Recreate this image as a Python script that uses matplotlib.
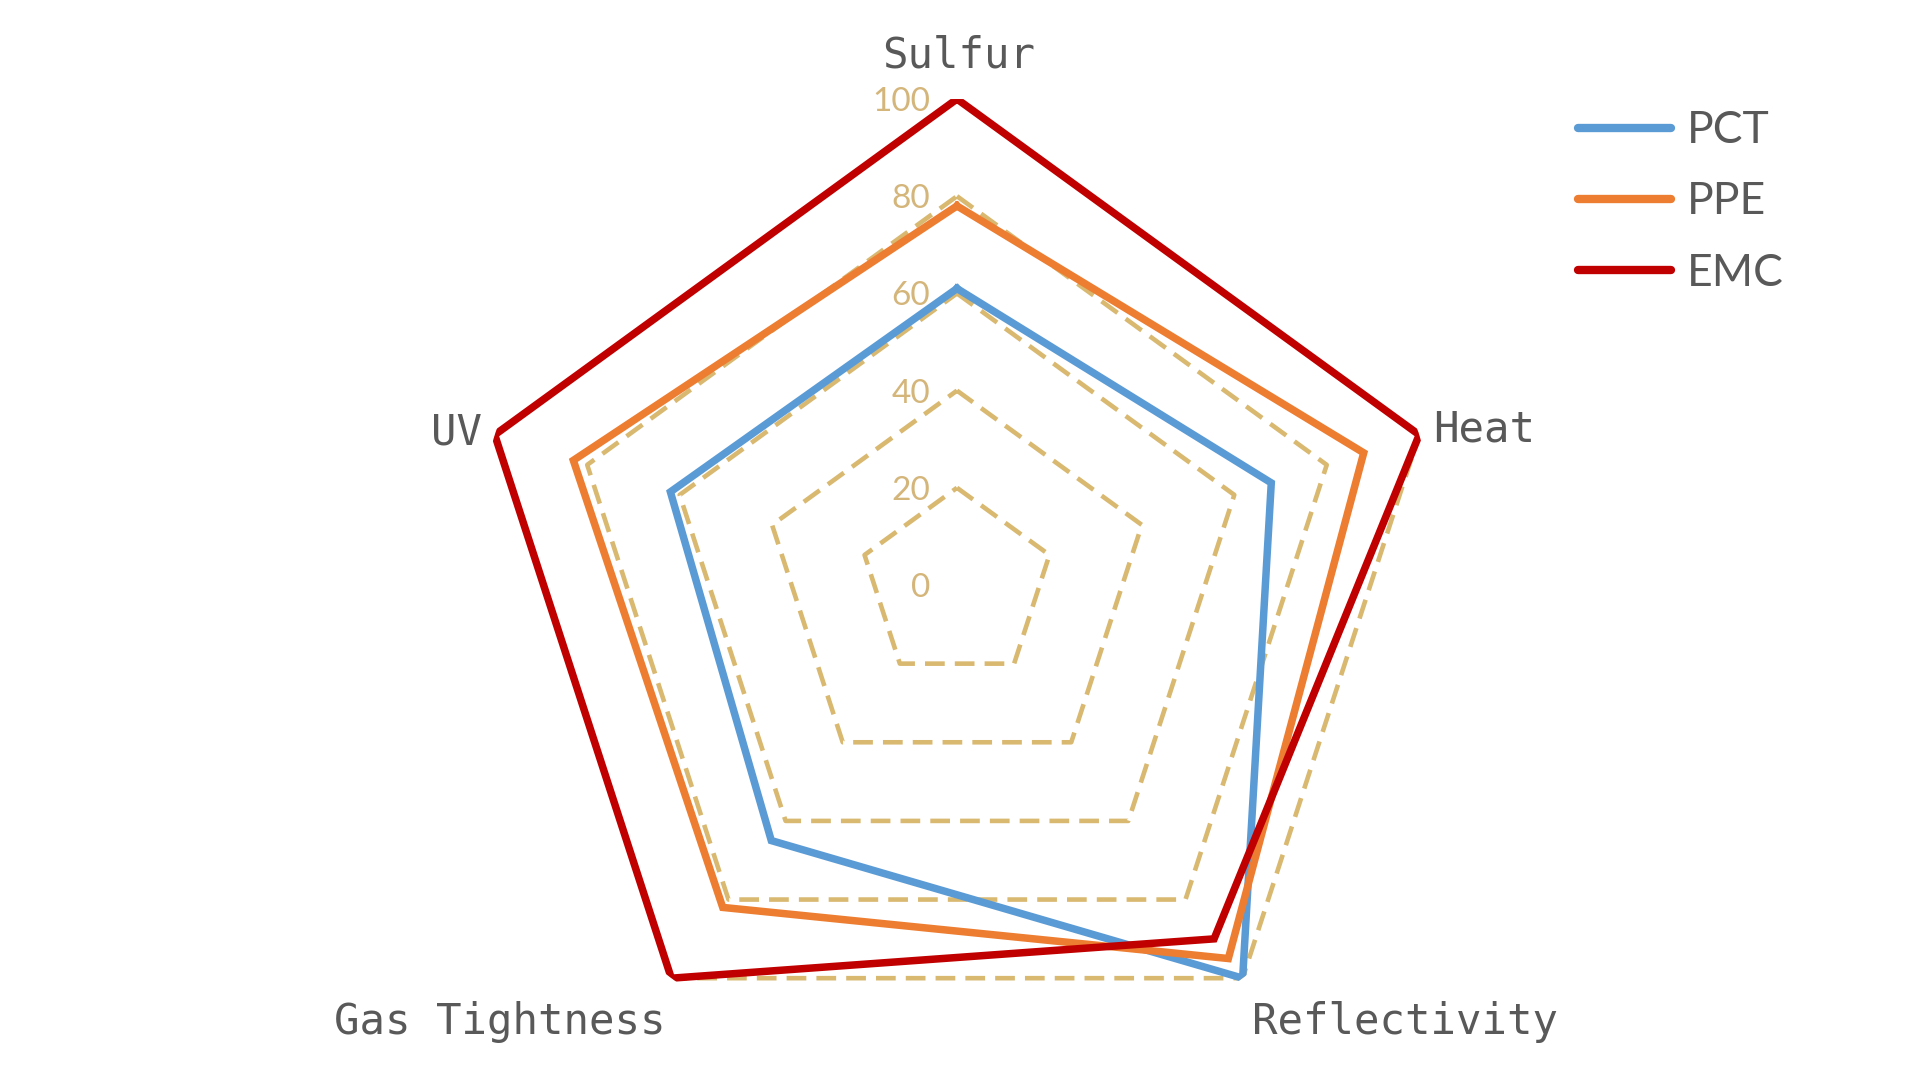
import numpy as np
import matplotlib
matplotlib.use("Agg")
import matplotlib.pyplot as plt
from matplotlib.transforms import offset_copy

categories = ["Sulfur", "Heat", "Reflectivity", "Gas Tightness", "UV"]
series_names = ["PCT", "PPE", "EMC"]
pct = [61, 68, 100, 65, 62]
ppe = [78, 88, 95, 82, 83]
emc = [100, 100, 90, 100, 100]
ring_levels = [20, 40, 60, 80, 100]
tick_labels = ["0", "20", "40", "60", "80", "100"]
tick_values = [0, 20, 40, 60, 80, 100]

colors = ["#5B9BD5", "#ED7D31", "#C00000"]
grid_color = "#D9B870"
tick_color = "#D4B57A"
text_color = "#595959"

fig = plt.figure(figsize=(19.2, 10.8), dpi=100)
ax = fig.add_axes([0.2453, 0.00833, 0.50625, 0.9], projection="polar")
ax.set_theta_zero_location("N")
ax.set_theta_direction(-1)
ax.set_ylim(0, 100)
ax.grid(False)
ax.spines["polar"].set_visible(False)
ax.set_xticks([])
ax.set_yticks([])
ax.patch.set_alpha(0)

n = len(categories)
theta = np.linspace(0, 2 * np.pi, n, endpoint=False)
theta_c = np.append(theta, theta[0])

# dashed pentagon rings
for lv in ring_levels:
    ax.plot(theta_c, [lv] * (n + 1), color=grid_color, lw=3.3,
            linestyle=(0, (4.3, 2.2)), zorder=1)

# tick labels
for v, lab in zip(tick_values, tick_labels):
    tr = offset_copy(ax.transData, fig=fig, x=-27, y=-3, units="dots")
    ax.text(0, v, lab, transform=tr, ha="right", va="center",
            fontsize=24, color=tick_color, family="Lato", zorder=2)

# data lines
for name, vals, c in zip(series_names, [pct, ppe, emc], colors):
    v = list(vals) + [vals[0]]
    ax.plot(theta_c, v, color=c, lw=5.4, solid_joinstyle="miter",
            label=name, zorder=3)

# category labels
label_offsets = [
    (2, 44, "center"),
    (14, 5, "left"),
    (9, -44, "left"),
    (-6, -44, "right"),
    (-13, 2, "right"),
]
for t, lab, (dx, dy, ha) in zip(theta, categories, label_offsets):
    tr = offset_copy(ax.transData, fig=fig, x=dx, y=dy, units="dots")
    ax.text(t, 100, lab, transform=tr, ha=ha, va="center",
            fontsize=30.5, color=text_color, family="DejaVu Sans Mono")

leg = fig.legend(loc="upper left", bbox_to_anchor=(1578 / 1920, 0.898),
                 frameon=False, borderaxespad=0, borderpad=0,
                 handlelength=2.1, handletextpad=0.34, labelspacing=0.68,
                 prop={"family": "Lato", "size": 32})
for t in leg.get_texts():
    t.set_color(text_color)
for h in leg.get_lines():
    h.set_solid_capstyle("round")
    h.set_linewidth(6.0)

fig.savefig("out.png", dpi=100, facecolor="white")
